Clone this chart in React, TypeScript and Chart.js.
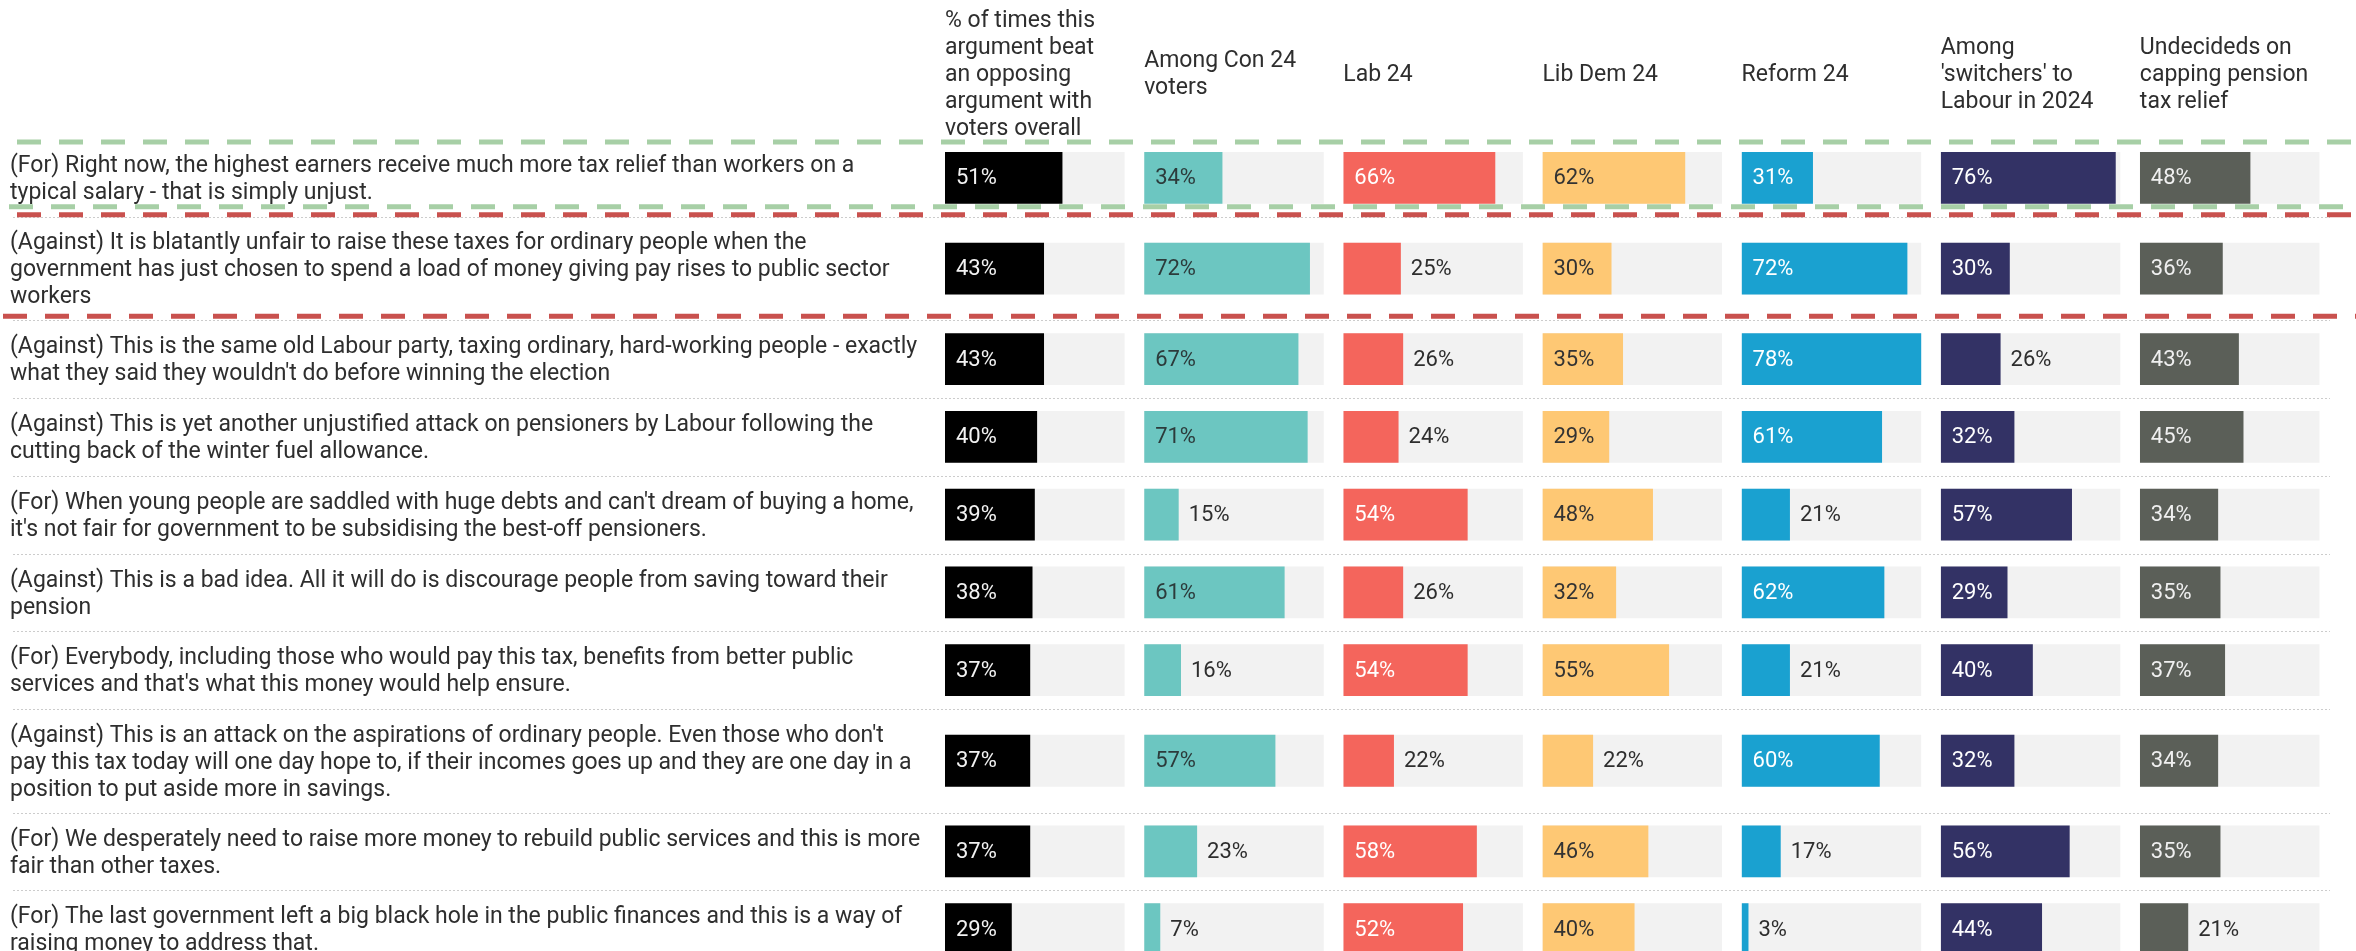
import React, { useEffect, useRef } from 'react';
import { Chart, registerables } from 'chart.js';

Chart.register(...registerables);

// ---------------- data ----------------
const columnHeaders: string[][] = [
  ['% of times this', 'argument beat', 'an opposing', 'argument with', 'voters overall'],
  ['Among Con 24', 'voters'],
  ['Lab 24'],
  ['Lib Dem 24'],
  ['Reform 24'],
  ['Among', "'switchers' to", 'Labour in 2024'],
  ['Undecideds on', 'capping pension', 'tax relief'],
];

const argumentLines: string[][] = [
  ['(For) Right now, the highest earners receive much more tax relief than workers on a', 'typical salary - that is simply unjust.'],
  ['(Against) It is blatantly unfair to raise these taxes for ordinary people when the', 'government has just chosen to spend a load of money giving pay rises to public sector', 'workers'],
  ['(Against) This is the same old Labour party, taxing ordinary, hard-working people - exactly', "what they said they wouldn't do before winning the election"],
  ['(Against) This is yet another unjustified attack on pensioners by Labour following the', 'cutting back of the winter fuel allowance.'],
  ["(For) When young people are saddled with huge debts and can't dream of buying a home,", "it's not fair for government to be subsidising the best-off pensioners."],
  ['(Against) This is a bad idea. All it will do is discourage people from saving toward their', 'pension'],
  ['(For) Everybody, including those who would pay this tax, benefits from better public', "services and that's what this money would help ensure."],
  ["(Against) This is an attack on the aspirations of ordinary people. Even those who don't", 'pay this tax today will one day hope to, if their incomes goes up and they are one day in a', 'position to put aside more in savings.'],
  ['(For) We desperately need to raise more money to rebuild public services and this is more', 'fair than other taxes.'],
  ['(For) The last government left a big black hole in the public finances and this is a way of', 'raising money to address that.'],
];

const overall = [51, 43, 43, 40, 39, 38, 37, 37, 37, 29];
const con24 = [34, 72, 67, 71, 15, 61, 16, 57, 23, 7];
const lab24 = [66, 25, 26, 24, 54, 26, 54, 22, 58, 52];
const libDem24 = [62, 30, 35, 29, 48, 32, 55, 22, 46, 40];
const reform24 = [31, 72, 78, 61, 21, 62, 21, 60, 17, 3];
const switchers = [76, 30, 26, 32, 57, 29, 40, 32, 56, 44];
const undecided = [48, 36, 43, 45, 34, 35, 37, 34, 35, 21];

const seriesValues = [overall, con24, lab24, libDem24, reform24, switchers, undecided];

// highlighted rows: 0 = green box, 1 = red box
const highlightRows = [0, 1];

// ---------------- styles ----------------
const barColors = ['#000000', '#6cc6c1', '#f4655c', '#fec874', '#1aa1d0', '#333265', '#5b5f58'];
const insideLabelColors = ['#f2f2f2', '#2c3b3b', '#ffffff', '#333333', '#ffffff', '#ffffff', '#f0f0f0'];
const trackColor = '#f2f2f2';
const textColor = '#2e2e2e';
const TEXT_FONT = '23px Roboto, "Noto Sans", sans-serif';
const VALUE_FONT = '22px Roboto, "Noto Sans", sans-serif';
const LINE_H = 27;
const HEADER_CENTER_Y = 75;
const TEXT_DY = 2;
const TEXT_LEFT = 10;
const INSIDE_PAD = 11;
const OUTSIDE_PAD = 10;
const DIVIDER_LEFT = 13;
const DIVIDER_RIGHT = 2330;
const highlightStyles = [
  { color: '#a7cfa6', topOffset: 3, bottomOffset: -10, topStart: 17, bottomStart: 9 },
  { color: '#c9514e', topOffset: -2, bottomOffset: -4, topStart: 17, bottomStart: 3 },
];

const CANVAS_W = 2356;
const CANVAS_H = 968;
const PAD_LEFT = 945;
const PAD_RIGHT = 17;
const PAD_TOP = 139;
const TRACK_SHARE = 0.902;

// ---------------- derived layout ----------------
const rowUnits = argumentLines.map((l) => l.length + 1);
const rowStarts: number[] = [];
let acc = 0;
rowUnits.forEach((u) => {
  rowStarts.push(acc);
  acc += u;
});
const TOTAL_UNITS = acc;
const rowCenters = rowStarts.map((s, i) => s + rowUnits[i] / 2);
const TRACK_MAX = Math.max(...seriesValues.flat());
const X_MAX = TRACK_MAX / TRACK_SHARE;

const tablePlugin = {
  id: 'tableDecor',
  beforeDatasetsDraw(chart: any) {
    const ctx: CanvasRenderingContext2D = chart.ctx;
    const yS = chart.scales.y;
    ctx.save();
    ctx.strokeStyle = '#cccccc';
    ctx.lineWidth = 1;
    ctx.setLineDash([2, 2]);
    for (let i = 1; i <= rowStarts.length; i++) {
      const v = i < rowStarts.length ? rowStarts[i] : TOTAL_UNITS;
      const py = Math.round(yS.getPixelForValue(v)) + 0.5;
      ctx.beginPath();
      ctx.moveTo(DIVIDER_LEFT, py);
      ctx.lineTo(DIVIDER_RIGHT, py);
      ctx.stroke();
    }
    ctx.lineWidth = 5;
    ctx.setLineDash([24, 18]);
    highlightRows.forEach((row, k) => {
      const st = highlightStyles[k];
      const top = yS.getPixelForValue(rowStarts[row]) + st.topOffset;
      const bottom = yS.getPixelForValue(rowStarts[row] + rowUnits[row]) + st.bottomOffset;
      ctx.strokeStyle = st.color;
      ctx.beginPath();
      ctx.moveTo(st.topStart, top);
      ctx.lineTo(CANVAS_W, top);
      ctx.stroke();
      ctx.beginPath();
      ctx.moveTo(st.bottomStart, bottom);
      ctx.lineTo(CANVAS_W, bottom);
      ctx.stroke();
    });
    ctx.restore();
  },
  afterDatasetsDraw(chart: any) {
    const ctx: CanvasRenderingContext2D = chart.ctx;
    const yS = chart.scales.y;
    ctx.save();
    ctx.textBaseline = 'middle';
    ctx.textAlign = 'left';
    ctx.fillStyle = textColor;
    ctx.font = TEXT_FONT;
    // column headers
    columnHeaders.forEach((lines, c) => {
      const xs = chart.scales['x' + c];
      const x0 = xs.getPixelForValue(0);
      lines.forEach((line, k) => {
        const y = HEADER_CENTER_Y + (k - (lines.length - 1) / 2) * LINE_H;
        ctx.fillText(line, x0, y);
      });
    });
    // row labels
    argumentLines.forEach((lines, r) => {
      const cy = yS.getPixelForValue(rowCenters[r]) + TEXT_DY;
      lines.forEach((line, k) => {
        const y = cy + (k - (lines.length - 1) / 2) * LINE_H;
        ctx.fillText(line, TEXT_LEFT, y);
      });
    });
    // value labels
    ctx.font = VALUE_FONT;
    seriesValues.forEach((vals, c) => {
      const meta = chart.getDatasetMeta(c * 2);
      meta.data.forEach((el: any, i: number) => {
        const { x, base, y } = el.getProps(['x', 'base', 'y'], true);
        const label = vals[i] + '%';
        const tw = ctx.measureText(label).width;
        const w = x - base;
        if (w > tw + INSIDE_PAD * 2 + 2) {
          ctx.fillStyle = insideLabelColors[c];
          ctx.fillText(label, base + INSIDE_PAD, y + 1);
        } else {
          ctx.fillStyle = textColor;
          ctx.fillText(label, x + OUTSIDE_PAD, y + 1);
        }
      });
    });
    ctx.restore();
  },
};

export default function App() {
  const canvasRef = useRef<HTMLCanvasElement | null>(null);

  useEffect(() => {
    if (!canvasRef.current) return;
    const datasets: any[] = [];
    seriesValues.forEach((vals, c) => {
      datasets.push({
        label: columnHeaders[c].join(' '),
        data: vals.map((v, i) => ({ x: v, y: rowCenters[i] })),
        xAxisID: 'x' + c,
        yAxisID: 'y',
        backgroundColor: barColors[c],
        grouped: false,
        categoryPercentage: 1,
        barPercentage: 2 / 3,
        borderWidth: 0,
        order: 0,
      });
      datasets.push({
        label: 'track ' + c,
        data: vals.map((_, i) => ({ x: TRACK_MAX, y: rowCenters[i] })),
        xAxisID: 'x' + c,
        yAxisID: 'y',
        backgroundColor: trackColor,
        grouped: false,
        categoryPercentage: 1,
        barPercentage: 2 / 3,
        borderWidth: 0,
        order: 1,
      });
    });
    const scales: any = {
      y: {
        type: 'linear',
        axis: 'y',
        position: 'left',
        min: 0,
        max: TOTAL_UNITS,
        reverse: true,
        offset: false,
        display: false,
        ticks: { maxTicksLimit: 3 },
      },
    };
    seriesValues.forEach((_, c) => {
      scales['x' + c] = {
        type: 'linear',
        axis: 'x',
        position: 'bottom',
        stack: 'columns',
        stackWeight: 1,
        weight: c,
        min: 0,
        max: X_MAX,
        offset: false,
        display: false,
      };
    });
    const chart = new Chart(canvasRef.current, {
      type: 'bar',
      data: { datasets },
      options: {
        indexAxis: 'y',
        animation: false,
        responsive: false,
        devicePixelRatio: 1,
        layout: { padding: { left: PAD_LEFT, right: PAD_RIGHT, top: PAD_TOP, bottom: 0 } },
        plugins: { legend: { display: false }, tooltip: { enabled: false } },
        scales,
      } as any,
      plugins: [tablePlugin],
    });
    return () => chart.destroy();
  }, []);

  return (
    <div style={{ position: 'fixed', left: 0, top: 0, width: CANVAS_W, height: 951, overflow: 'hidden', background: '#ffffff' }}>
      <canvas ref={canvasRef} width={CANVAS_W} height={CANVAS_H} style={{ display: 'block' }} />
    </div>
  );
}
